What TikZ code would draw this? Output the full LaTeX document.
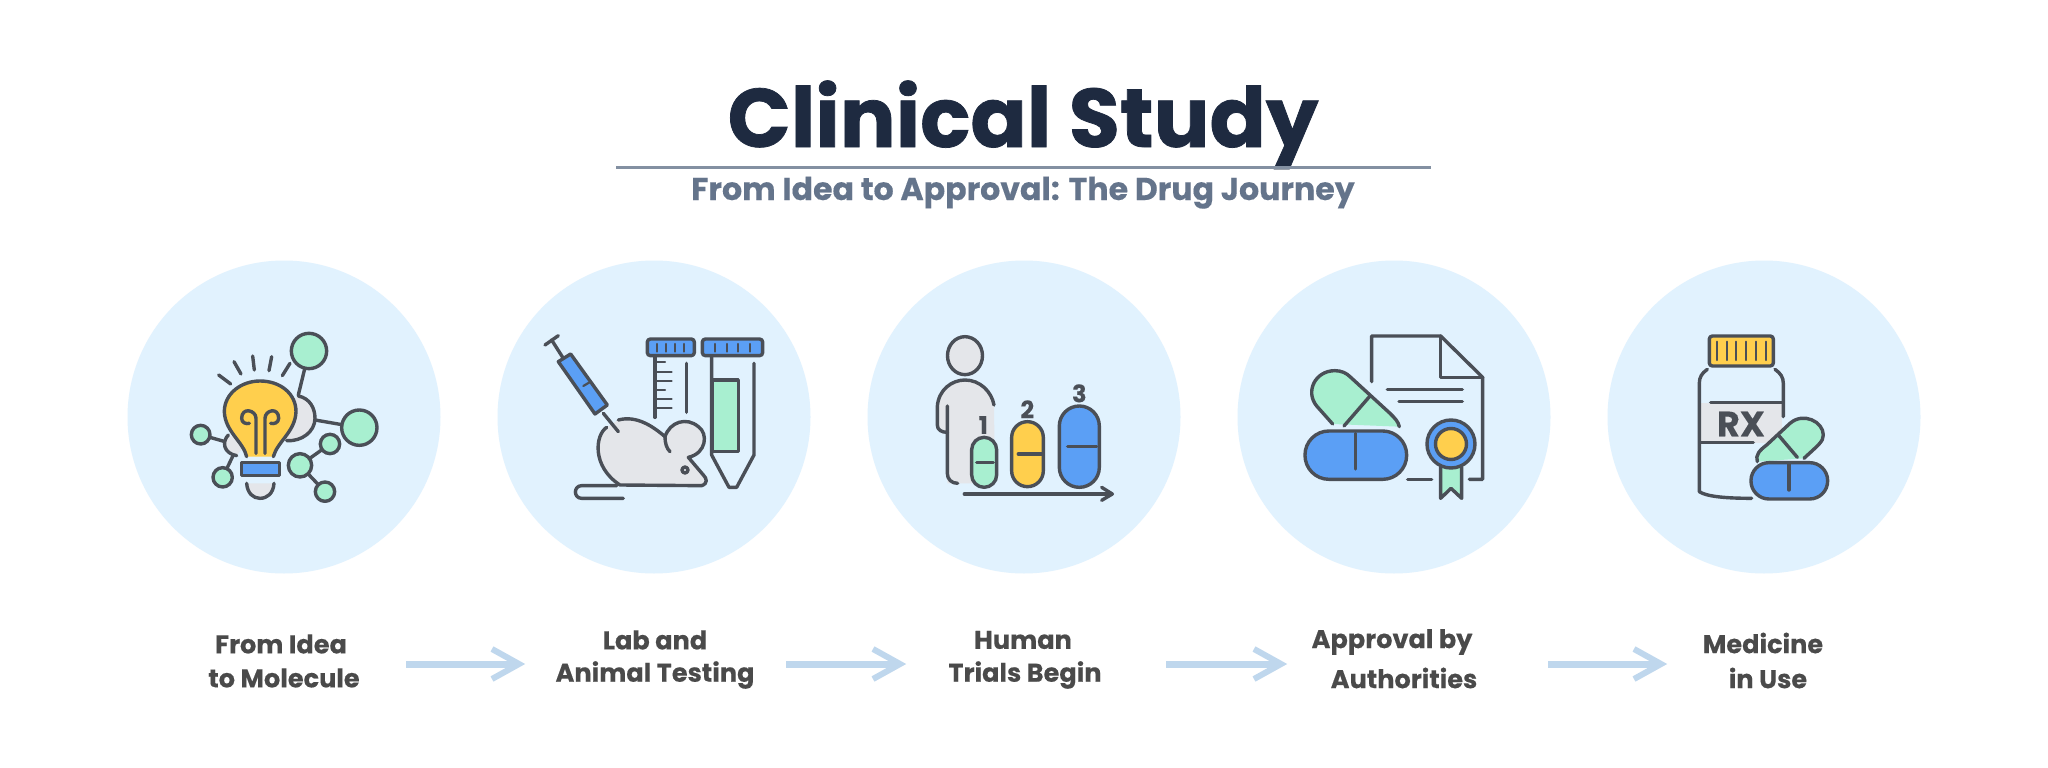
\documentclass[tikz,border=0pt]{standalone}
\usepackage{fontspec}
\setmainfont{Poppins}[BoldFeatures={FakeBold=0.25}]
\newfontfamily\titlefont{Poppins}[UprightFeatures={},BoldFeatures={FakeBold=0.9}]
\usetikzlibrary{arrows.meta}
\definecolor{ink}{HTML}{4A4F57}
\definecolor{mint}{HTML}{A8EFD0}
\definecolor{sun}{HTML}{FFCF4D}
\definecolor{sky}{HTML}{5B9FF5}
\definecolor{fog}{HTML}{E4E6EA}
\definecolor{disc}{HTML}{E1F2FE}
\definecolor{navy}{HTML}{1E2A40}
\definecolor{slate}{HTML}{64748B}
\definecolor{flow}{HTML}{BFD7ED}
\definecolor{lab}{HTML}{4A4A4A}
\tikzset{
  ic/.style={draw=ink,line width=3.4pt,line cap=round,line join=round},
  thin ic/.style={draw=ink,line width=2.2pt,line cap=round},
  bgdisc/.style={circle,fill=disc,minimum size=313pt,inner sep=0pt},
  lbl/.style={font=\fontsize{25.6}{28}\selectfont\bfseries,text=lab,inner sep=0pt},
  flowline/.style={draw=flow,line width=7pt},
  flowhead/.style={draw=flow,line width=6pt,line join=miter},
  numb/.style={font=\fontsize{24}{26}\selectfont\bfseries,text=ink,inner sep=0pt}
}
\newcommand{\flowarrow}[2]{%
  \draw[flowline] (#1) -- ([shift={(-6pt,0pt)}]#2);
  \draw[flowhead] ([shift={(-32pt,15pt)}]#2) -- ([shift={(-5pt,0pt)}]#2) -- ([shift={(-32pt,-15pt)}]#2);
}
\begin{document}
\begin{tikzpicture}[x=1pt,y=-1pt]
\useasboundingbox (0,0) rectangle (2048,768);
\fill[white] (0,0) rectangle (2048,768);
% title
\node[inner sep=0pt,anchor=base,text=navy,font=\titlefont\fontsize{83}{90}\selectfont\bfseries] (title) at (1023,147) {Clinical Study};
\coordinate (ruleL) at (616,167.5); \coordinate (ruleR) at (1431,167.5);
\draw[draw=slate!80!white,line width=2.5pt] (ruleL) -- (ruleR);
\node[inner sep=0pt,anchor=base,text=slate,font=\fontsize{31.6}{34}\selectfont\bfseries] (subtitle) at (1023,200) {From Idea to Approval: The Drug Journey};
% discs
\node[bgdisc] (d1) at (284,417) {};
\node[bgdisc] (d2) at (654,417) {};
\node[bgdisc] (d3) at (1024,417) {};
\node[bgdisc] (d4) at (1394,417) {};
\node[bgdisc] (d5) at (1764,417) {};
% ---- icon 1
\begin{scope}[x=0.33333pt,y=-0.33333pt,shift={(510,930)}]
\draw[ic] (417,123) -- (385,255);
\draw[ic] (435,330) -- (568,353);
\draw[ic] (92,374) -- (165,395);
\draw[ic] (190,435) -- (158,502);
\draw[ic] (480,402) -- (390,466) -- (465,545);
\path[fill=fog] (385,258) .. controls (420,265) and (435,295) .. (435,325) .. controls (435,365) and (395,395) .. (350,392) -- (300,320) -- cycle;
\draw[ic] (385,258) .. controls (420,265) and (435,295) .. (435,325) .. controls (435,365) and (395,395) .. (350,392);
\path[fill=fog] (175,375) .. controls (155,395) and (160,430) .. (200,437) -- (230,400) -- cycle;
\draw[ic] (175,375) .. controls (155,395) and (160,430) .. (200,437);
\foreach \cx/\cy/\r in {417/123/53,568/353/53,92/374/28,158/502/29,480/402/29,390/466/35,465/545/29}
  \draw[ic,fill=mint] (\cx,\cy) circle[radius=\r*0.33333pt];
\draw[ic,fill=sun] (230,440) .. controls (220,395) and (165,365) .. (163,305) .. controls (163,250) and (215,213) .. (270,213) .. controls (330,213) and (378,250) .. (378,305) .. controls (376,365) and (322,395) .. (310,440);
\draw[ic] (258,430) -- (258,325) .. controls (258,300) and (215,290) .. (215,325) .. controls (215,338) and (228,343) .. (238,340);
\draw[ic] (285,430) -- (285,325) .. controls (285,300) and (326,290) .. (326,325) .. controls (326,338) and (312,343) .. (302,340);
\draw[ic,fill=sky] (215,458) rectangle (328,497);
\draw[ic,fill=fog] (230,520) .. controls (232,550) and (250,565) .. (270,565) .. controls (292,565) and (310,550) .. (312,520);
\draw[ic] (146,195) -- (182,222);
\draw[ic] (192,155) -- (213,192);
\draw[ic] (248,138) -- (253,180);
\draw[ic] (305,140) -- (297,182);
\draw[ic] (360,160) -- (337,197);
\end{scope}
% ---- icon 2
\begin{scope}[x=0.33333pt,y=-0.33333pt,shift={(1590,960)}]
% tube 1
\draw[ic] (375,110) -- (375,292);
\foreach \yy/\xe in {127/405,155/425,183/425,210/405,238/425,265/425}
  \draw[thin ic] (375,\yy) -- (\xe,\yy);
\draw[ic] (470,130) -- (470,277);
\draw[ic,fill=sky,rounded corners=3pt] (352,57) rectangle (493,107);
\foreach \xx in {380,407,435,462} \draw[thin ic] (\xx,72) -- (\xx,95);
% tube 2
\draw[ic,fill=mint] (548,180) rectangle (625,395);
\draw[ic] (545,110) -- (545,405) -- (597,502) -- (620,502) -- (672,405) -- (672,130);
\draw[ic,fill=sky,rounded corners=3pt] (517,57) rectangle (698,107);
\foreach \xx in {555,590,625,660} \draw[thin ic] (\xx,72) -- (\xx,95);
% tail
\draw[ic] (280,535) -- (155,535) .. controls (130,535) and (130,497) .. (155,497) -- (260,497);
% mouse
\path[fill=fog] (230,322) .. controls (195,345) and (185,440) .. (270,495) -- (515,497) .. controls (535,490) and (530,475) .. (520,465) -- (475,412) .. controls (530,400) and (535,340) .. (505,320) .. controls (470,290) and (420,305) .. (405,350) .. controls (370,320) and (320,285) .. (265,300) -- cycle;
\draw[ic] (230,322) .. controls (195,345) and (185,440) .. (270,495) -- (515,497) .. controls (535,490) and (530,475) .. (520,465) -- (475,412) .. controls (530,400) and (535,340) .. (505,320) .. controls (470,290) and (420,305) .. (405,350) .. controls (370,320) and (320,285) .. (265,300);
\draw[ic] (405,350) .. controls (405,370) and (410,385) .. (420,395);
\draw[ic] (465,450) circle[radius=3pt];
% syringe
\draw[ic] (45,75) -- (85,47);
\draw[ic] (65,60) -- (100,115);
\draw[ic] (220,280) -- (265,335);
\draw[ic,fill=sky] (85,125) -- (122,102) -- (232,255) -- (195,282) -- cycle;
\draw[thin ic] (160,198) -- (182,185);
\end{scope}
% ---- icon 3
\begin{scope}[x=0.33333pt,y=-0.33333pt,shift={(2760,960)}]
\path[fill=fog] (82,490) -- (82,337) -- (52,320) -- (52,260) .. controls (55,210) and (95,180) .. (135,180) .. controls (180,180) and (215,215) .. (222,255) -- (225,490) -- cycle;
\draw[ic] (222,255) .. controls (215,215) and (180,180) .. (135,180) .. controls (95,180) and (55,210) .. (52,260) -- (52,315) .. controls (52,330) and (65,337) .. (82,337);
\draw[ic] (82,258) -- (82,460) .. controls (82,478) and (95,490) .. (113,490);
\draw[ic,fill=fog] (135,107) ellipse[x radius=17.5pt,y radius=19pt];
\draw[ic,fill=mint,rounded corners=12.5pt] (155,352) rectangle (230,502);
\draw[ic] (170,427) -- (220,427);
\draw[ic,fill=sun,rounded corners=15.8pt] (275,305) rectangle (370,500);
\draw[ic] (295,402) -- (365,402);
\draw[ic,fill=sky,rounded corners=20pt] (418,258) rectangle (538,502);
\draw[ic] (443,380) -- (530,380);
\node[numb] (n1) at (190,315) {1};
\node[numb] (n2) at (322,268) {2};
\node[numb] (n3) at (478,220) {3};
\draw[ic] (133,522) -- (575,522);
\draw[ic] (545,502) -- (577,522) -- (545,541);
\end{scope}
% ---- icon 4
\begin{scope}[x=0.33333pt,y=-0.33333pt,shift={(3870,960)}]
\draw[ic] (245,185) -- (245,48) -- (452,48) -- (578,172) -- (578,478) -- (538,478);
\draw[ic] (452,48) -- (452,172) -- (578,172);
\draw[ic] (292,208) -- (517,208);
\draw[ic] (327,245) -- (517,245);
\draw[ic] (353,478) -- (425,478);
\path[fill=mint] (128,312) -- (80,258) .. controls (45,215) and (75,152) .. (135,152) .. controls (155,152) and (170,160) .. (180,170) -- (300,280) .. controls (315,295) and (325,305) .. (328,320) -- cycle;
\draw[ic] (128,312) -- (80,258) .. controls (45,215) and (75,152) .. (135,152) .. controls (155,152) and (170,160) .. (180,170) -- (300,280) .. controls (315,295) and (325,305) .. (328,320);
\draw[ic] (240,228) -- (162,318);
\draw[ic,fill=sky,rounded corners=24pt] (45,333) rectangle (350,478);
\draw[ic] (197,340) -- (197,447);
\draw[ic,fill=mint] (452,440) -- (452,535) -- (483,505) -- (515,535) -- (515,440);
\draw[ic,fill=sky] (483,372) circle[radius=24pt];
\draw[ic,fill=sun] (483,372) circle[radius=15.5pt];
\end{scope}
% ---- icon 5
\begin{scope}[x=0.33333pt,y=-0.33333pt,shift={(5040,960)}]
\path[fill=fog] (60,250) rectangle (306,368);
\draw[ic] (82,148) .. controls (65,160) and (58,172) .. (58,190) -- (58,515) .. controls (80,530) and (140,535) .. (215,535);
\draw[ic] (285,148) .. controls (302,160) and (310,172) .. (310,190) -- (310,290);
\draw[ic] (92,248) -- (305,248);
\draw[ic] (62,368) -- (220,368);
\node[inner sep=0pt,text=ink,font=\fontsize{35}{36}\selectfont\bfseries] (rx) at (183,312) {RX};
\draw[ic,fill=sun,rounded corners=3pt] (88,48) rectangle (280,138);
\foreach \xx in {112,140,168,198,228,258} \draw[thin ic] (\xx,65) -- (\xx,120);
\path[fill=mint] (232,425) .. controls (225,405) and (240,390) .. (260,375) -- (330,310) .. controls (370,275) and (430,305) .. (430,345) .. controls (430,365) and (415,375) .. (372,415) -- cycle;
\draw[ic] (232,425) .. controls (225,405) and (240,390) .. (260,375) -- (330,310) .. controls (370,275) and (430,305) .. (430,345) .. controls (430,365) and (415,375) .. (372,415);
\draw[ic] (295,345) -- (352,412);
\draw[ic,fill=sky,rounded corners=18pt] (213,428) rectangle (443,537);
\draw[ic] (327,432) -- (327,510);
\end{scope}
% labels
\node[lbl] (l1a) at (281,644) {From Idea};
\node[lbl] (l1b) at (284,678) {to Molecule};
\node[lbl] (l2a) at (655,640) {Lab and};
\node[lbl] (l2b) at (655,675) {Animal Testing};
\node[lbl] (l3a) at (1023,640) {Human};
\node[lbl] (l3b) at (1025,675) {Trials Begin};
\node[lbl] (l4a) at (1392,642) {Approval by};
\node[lbl] (l4b) at (1404,678) {Authorities};
\node[lbl] (l5a) at (1763,643) {Medicine};
\node[lbl] (l5b) at (1768,678) {in Use};
% arrows
\coordinate (a1s) at (406,664); \coordinate (a1e) at (524,664);
\coordinate (a2s) at (786,664); \coordinate (a2e) at (905,664);
\coordinate (a3s) at (1166,664); \coordinate (a3e) at (1286,664);
\coordinate (a4s) at (1548,664); \coordinate (a4e) at (1666,664);
\flowarrow{a1s}{a1e}
\flowarrow{a2s}{a2e}
\flowarrow{a3s}{a3e}
\flowarrow{a4s}{a4e}
\end{tikzpicture}
\end{document}
